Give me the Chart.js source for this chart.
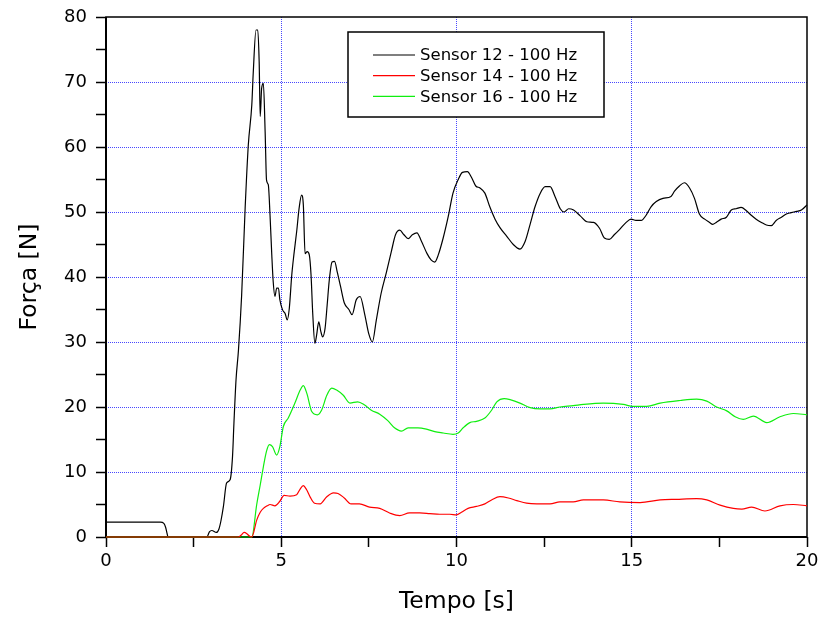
<!DOCTYPE html>
<html>
<head>
<meta charset="utf-8">
<script src="https://cdn.jsdelivr.net/npm/chart.js@4.4.0/dist/chart.umd.min.js"></script>
<style>
    body { margin: 0; background: #fff; }
    #wrap { width: 821px; height: 617px; }
</style>
</head>
<body>
<div id="wrap"><canvas id="canvas" width="821" height="617"></canvas></div>
<script>
var xLabels = [0, 5, 10, 15, 20];
var yLabels = [0, 10, 20, 30, 40, 50, 60, 70, 80];

// Sensor 12 - 100 Hz
var s12T = [0, 1.55, 1.65, 1.70, 1.74, 1.77, 2.88, 2.95, 3.02, 3.15, 3.22, 3.28, 3.35, 3.44, 3.54, 3.61, 3.65, 3.71,
    3.78, 3.87, 3.97, 4.06, 4.16, 4.20, 4.28, 4.33, 4.37, 4.40, 4.44, 4.49, 4.54, 4.58, 4.63, 4.68, 4.73, 4.77, 4.82,
    4.87, 4.92, 4.96, 5.04, 5.11, 5.17, 5.23, 5.30, 5.36, 5.44, 5.51, 5.58, 5.63, 5.68, 5.74, 5.80, 5.85, 5.90, 5.96,
    6.01, 6.07, 6.13, 6.18, 6.25, 6.31, 6.37, 6.45, 6.52, 6.60, 6.69, 6.80, 6.93, 7.02, 7.14, 7.25, 7.38, 7.50, 7.60,
    7.71, 7.85, 8.00, 8.14, 8.26, 8.38, 8.50, 8.62, 8.74, 8.87, 9.00, 9.16, 9.28, 9.38, 9.48, 9.62, 9.76, 9.90, 10.05,
    10.17, 10.31, 10.43, 10.55, 10.67, 10.81, 10.95, 11.10, 11.24, 11.43, 11.62, 11.81, 11.96, 12.10, 12.24, 12.39,
    12.53, 12.67, 12.81, 12.96, 13.07, 13.20, 13.34, 13.53, 13.72, 13.91, 14.08, 14.22, 14.36, 14.50, 14.65, 14.84,
    14.98, 15.12, 15.27, 15.41, 15.55, 15.70, 15.89, 16.12, 16.22, 16.36, 16.50, 16.65, 16.79, 16.93, 17.08, 17.22,
    17.31, 17.41, 17.55, 17.70, 17.84, 17.98, 18.12, 18.27, 18.41, 18.55, 18.70, 18.84, 18.98, 19.12, 19.27, 19.41,
    19.55, 19.70, 19.84, 20.0];
var s12F = [2.3, 2.3, 2.1, 1.5, 0.6, 0, 0, 0.8, 1.0, 0.7, 1.2, 2.5, 4.7, 8.3, 8.8, 12.4, 17.5, 24.2,
    28.8, 37.2, 50.6, 60.3, 66.5, 71.3, 78.0, 78.0, 73.1, 64.7, 69.0, 69.8, 62.4, 54.9, 54.2, 49.5, 43.4, 39.3, 37.0,
    38.3, 38.3, 36.5, 34.9, 34.4, 33.4, 35.2, 40.3, 43.4, 47.0, 50.6, 52.6, 51.1, 43.6, 43.9, 43.4, 40.3, 34.2, 29.8,
    31.1, 33.1, 31.6, 30.8, 32.1, 35.7, 39.5, 42.3, 42.4, 40.7, 38.6, 36.0, 35.0, 34.2, 36.5, 37.0, 34.3, 31.2, 30.0,
    33.3, 37.5, 40.7, 43.9, 46.5, 47.2, 46.5, 45.9, 46.5, 46.8, 45.5, 43.6, 42.6, 42.3, 43.4, 46.0, 49.2, 52.9, 55.0,
    56.1, 56.2, 55.3, 54.0, 53.7, 52.9, 50.8, 48.9, 47.6, 46.3, 45.0, 44.3, 45.5, 48.1, 50.8, 52.9,
    53.9, 53.9, 52.4, 50.5, 50.0, 50.5, 50.3, 49.4, 48.5, 48.4, 47.5, 46.0, 45.8, 46.5, 47.3, 48.4,
    48.9, 48.7, 48.7, 49.5, 50.8, 51.6, 52.1, 52.4, 53.2, 54.0, 54.5, 53.7, 52.1, 49.7, 48.9, 48.4,
    48.1, 48.4, 48.9, 49.2, 50.3, 50.5, 50.7, 50.2, 49.5, 48.9, 48.4, 48.0, 47.9, 48.7, 49.2, 49.7,
    49.9, 50.1, 50.3, 51.1];

// Sensor 14 - 100 Hz
var s14T = [0, 3.78, 3.86, 3.94, 4.02, 4.10, 4.16, 4.30, 4.40, 4.49, 4.60, 4.68, 4.82, 4.96, 5.08, 5.25, 5.44, 5.53,
    5.63, 5.72, 5.83, 5.95, 6.11, 6.30, 6.49, 6.62, 6.80, 6.99, 7.23, 7.52, 7.81, 8.09, 8.38, 8.66, 8.95, 9.24, 9.52,
    9.81, 10.0, 10.14, 10.33, 10.57, 10.81, 11.0, 11.24, 11.48, 11.72, 12.0, 12.29, 12.67, 12.95, 13.33, 13.62, 14.19,
    14.66, 15.24, 15.81, 16.28, 16.85, 17.14, 17.52, 17.90, 18.14, 18.42, 18.80, 19.23, 19.61, 20.0];
var s14F = [0, 0, 0.3, 0.7, 0.5, 0.1, 0, 2.6, 3.8, 4.4, 4.8, 5.0, 4.8, 5.5, 6.4, 6.3, 6.5, 7.3,
    7.9, 7.3, 6.1, 5.2, 5.1, 6.2, 6.8, 6.7, 6.0, 5.1, 5.1, 4.6, 4.4, 3.7, 3.3, 3.7, 3.7, 3.6, 3.5,
    3.5, 3.4, 3.8, 4.4, 4.7, 5.1, 5.7, 6.2, 6.0, 5.6, 5.2, 5.1, 5.1, 5.4, 5.4, 5.7, 5.7,
    5.4, 5.3, 5.7, 5.8, 5.9, 5.7, 4.9, 4.4, 4.3, 4.6, 4.0, 4.8, 5.0, 4.8];

// Sensor 16 - 100 Hz
var s16T = [0, 4.16, 4.30, 4.40, 4.49, 4.58, 4.66, 4.75, 4.87, 4.96, 5.06, 5.20, 5.39, 5.54, 5.63, 5.73, 5.87, 6.03,
    6.15, 6.30, 6.44, 6.58, 6.77, 6.96, 7.18, 7.38, 7.57, 7.81, 8.04, 8.23, 8.43, 8.62, 8.90, 9.14, 9.38, 9.62, 9.90,
    10.05, 10.19, 10.38, 10.57, 10.81, 11.0, 11.15, 11.36, 11.55, 11.81, 12.10, 12.39, 12.67, 12.95, 13.33, 13.62,
    14.19, 14.76, 15.03, 15.43, 15.81, 16.38, 16.85, 17.14, 17.42, 17.71, 17.95, 18.18, 18.47, 18.85, 19.23, 19.61, 20.0];
var s16F = [0, 0, 5.0, 8.0, 10.8, 13.2, 14.2, 13.9, 12.6, 13.9, 17.0, 18.3, 20.6, 22.6, 23.3, 22.1, 19.3, 18.8,
    19.5, 21.8, 22.9, 22.6, 21.8, 20.6, 20.8, 20.3, 19.5, 18.9, 17.9, 16.8, 16.3, 16.8, 16.8, 16.6, 16.2, 16.0, 15.8,
    16.0, 16.8, 17.6, 17.8, 18.3, 19.5, 20.8, 21.3, 21.1, 20.6, 19.9, 19.7, 19.7, 20.0, 20.2, 20.4,
    20.6, 20.4, 20.1, 20.1, 20.6, 21.0, 21.2, 20.9, 20.0, 19.4, 18.5, 18.1, 18.6, 17.6, 18.5, 19.0, 18.8];

function pts(t, f) {
    return t.map(function(x, i) { return { x: x, y: f[i] }; });
}

var FONT = '"DejaVu Sans", Arial, sans-serif';
var gridBlue = 'rgba(40,40,255,0.85)';

var framePlugin = {
    id: 'frame',
    beforeDatasetsDraw: function(chart) {
        var a = chart.chartArea, ctx = chart.ctx;
        ctx.save();
        ctx.strokeStyle = '#000';
        ctx.lineWidth = 1.5;
        ctx.strokeRect(a.left, a.top, a.right - a.left, a.bottom - a.top);
        ctx.lineWidth = 2;
        ctx.beginPath();
        ctx.moveTo(a.left, a.top);
        ctx.lineTo(a.left, a.bottom);
        ctx.lineTo(a.right, a.bottom);
        ctx.stroke();
        ctx.restore();
    }
};

// boxed legend inside the plot
var boxLegend = {
    id: 'boxLegend',
    afterDraw: function(chart) {
        var ctx = chart.ctx;
        var x0 = 348, y0 = 32, w = 256, h = 85;
        ctx.save();
        ctx.fillStyle = '#fff';
        ctx.fillRect(x0, y0, w, h);
        ctx.strokeStyle = '#000';
        ctx.lineWidth = 1.5;
        ctx.strokeRect(x0, y0, w, h);
        ctx.font = '16.5px ' + FONT;
        ctx.textBaseline = 'middle';
        ctx.fillStyle = '#000';
        chart.data.datasets.forEach(function(ds, i) {
            var y = y0 + 23 + i * 20.7;
            ctx.strokeStyle = ds.borderColor;
            ctx.lineWidth = 1.2;
            ctx.beginPath();
            ctx.moveTo(373, y);
            ctx.lineTo(415, y);
            ctx.stroke();
            ctx.fillText(ds.label, 420, y + 1);
        });
        ctx.restore();
    }
};

window.onload = function() {
    var ctx = document.getElementById('canvas').getContext('2d');
    window.myChart = new Chart(ctx, {
        type: 'line',
        data: {
            datasets: [{
                label: 'Sensor 12 - 100 Hz',
                data: pts(s12T, s12F),
                borderColor: '#000000',
                order: 2
            }, {
                label: 'Sensor 14 - 100 Hz',
                data: pts(s14T, s14F),
                borderColor: '#ff0000',
                order: 0
            }, {
                label: 'Sensor 16 - 100 Hz',
                data: pts(s16T, s16F),
                borderColor: '#10ee10',
                order: 1
            }]
        },
        options: {
            responsive: false,
            animation: false,
            layout: { padding: { left: 0, right: 14, top: 17, bottom: 0 } },
            elements: {
                line: { borderWidth: 1.2, cubicInterpolationMode: 'monotone', fill: false },
                point: { radius: 0, hoverRadius: 0 }
            },
            datasets: { line: { clip: 4 } },
            plugins: {
                legend: { display: false },
                tooltip: { enabled: false }
            },
            scales: {
                x: {
                    type: 'linear',
                    min: 0,
                    max: 20,
                    afterFit: function(s) {
                        s.height = 80;
                        s.paddingLeft = 0;
                        s.paddingRight = 0;
                    },
                    ticks: {
                        stepSize: 2.5,
                        autoSkip: false,
                        maxRotation: 0,
                        padding: 4,
                        color: '#000',
                        font: { family: FONT, size: 18 },
                        callback: function(v) { return xLabels.indexOf(v) >= 0 ? v : ''; }
                    },
                    grid: {
                        color: function(c) {
                            var v = c.tick ? c.tick.value : 0;
                            return (v % 5 === 0 && v > 0 && v < 20) ? gridBlue : 'rgba(0,0,0,0)';
                        },
                        lineWidth: 1,
                        tickColor: '#000',
                        tickLength: 10,
                        tickWidth: 1.5,
                        tickBorderDash: []
                    },
                    border: { display: false, dash: [1, 1] },
                    title: {
                        display: true,
                        text: 'Tempo [s]',
                        color: '#000',
                        font: { family: FONT, size: 23.5 },
                        padding: { top: 0, bottom: 1 }
                    }
                },
                y: {
                    min: 0,
                    max: 80,
                    afterFit: function(s) {
                        s.width = 106;
                        s.paddingTop = 0;
                        s.paddingBottom = 0;
                    },
                    ticks: {
                        stepSize: 5,
                        autoSkip: false,
                        padding: 9,
                        color: '#000',
                        font: { family: FONT, size: 18 },
                        callback: function(v) { return yLabels.indexOf(v) >= 0 ? v : ''; }
                    },
                    grid: {
                        color: function(c) {
                            var v = c.tick ? c.tick.value : 0;
                            return (v % 10 === 0 && v > 0 && v < 80) ? gridBlue : 'rgba(0,0,0,0)';
                        },
                        lineWidth: 1,
                        tickColor: '#000',
                        tickLength: 10,
                        tickWidth: 1.5,
                        tickBorderDash: []
                    },
                    border: { display: false, dash: [1, 1] },
                    title: {
                        display: true,
                        text: 'Força [N]',
                        color: '#000',
                        font: { family: FONT, size: 23.5 },
                        padding: { top: 16, bottom: 0 }
                    }
                }
            }
        },
        plugins: [framePlugin, boxLegend]
    });
};
</script>
</body>
</html>
